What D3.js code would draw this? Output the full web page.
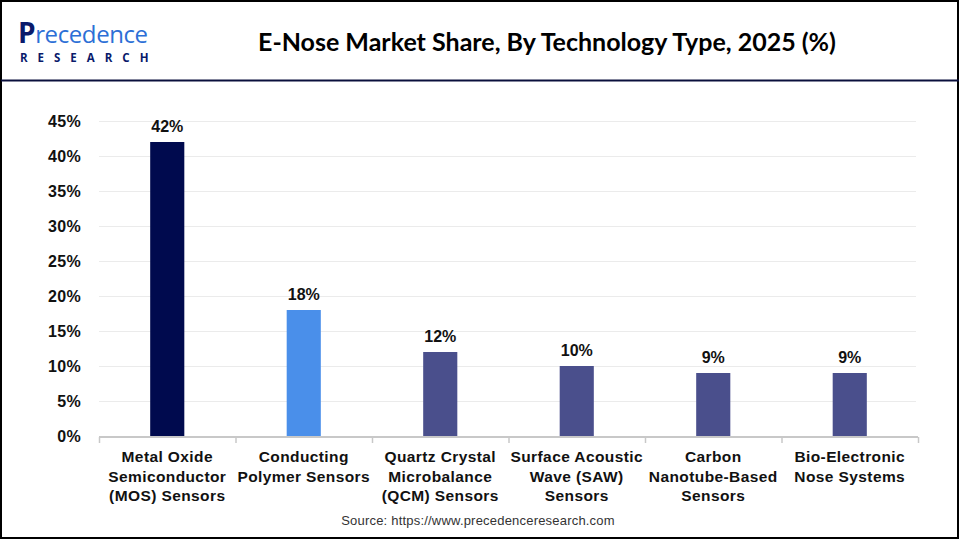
<!DOCTYPE html>
<html>
<head>
<meta charset="utf-8">
<script src="https://cdn.jsdelivr.net/npm/d3@7"></script>
<style>
  body { margin: 0; background: #fff; }
  svg { display: block; }
</style>
</head>
<body>
<svg width="960" height="540"></svg>
<script>
// Data
const categories = [
    ["Metal Oxide", "Semiconductor", "(MOS) Sensors"],
    ["Conducting", "Polymer Sensors"],
    ["Quartz Crystal", "Microbalance", "(QCM) Sensors"],
    ["Surface Acoustic", "Wave (SAW)", "Sensors"],
    ["Carbon", "Nanotube-Based", "Sensors"],
    ["Bio-Electronic", "Nose Systems"]
];
const values = [42, 18, 12, 10, 9, 9];
const barColors = ["#000a4e", "#4a8fea", "#4a4f8c", "#4a4f8c", "#4a4f8c", "#4a4f8c"];
const yTicks = [0, 5, 10, 15, 20, 25, 30, 35, 40, 45];

const svg = d3.select("svg");

// Frame and header rule
svg.append("rect")
    .attr("x", 1).attr("y", 1)
    .attr("width", 957).attr("height", 537)
    .attr("fill", "none")
    .attr("stroke", "#000")
    .attr("stroke-width", 2);

svg.append("line")
    .attr("x1", 1).attr("x2", 959)
    .attr("y1", 80.5).attr("y2", 80.5)
    .attr("stroke", "#0a0f3c")
    .attr("stroke-width", 2);

// Logo
const logo = svg.append("g");
logo.append("text")
    .attr("x", 18).attr("y", 43)
    .style("font-family", "'Open Sans', sans-serif")
    .style("font-size", "24px")
    .style("font-weight", "500")
    .style("letter-spacing", "-0.4px")
    .html('<tspan fill="#0a1a6b" font-size="28px" font-weight="700">P</tspan><tspan fill="#2c6fd6">recedence</tspan>');
logo.append("text")
    .attr("x", 20).attr("y", 58)
    .attr("dy", "0.35em")
    .attr("fill", "#0a1a6b")
    .style("font-family", "'Open Sans', sans-serif")
    .style("font-size", "11.5px")
    .style("font-weight", "700")
    .style("letter-spacing", "10px")
    .text("RESEARCH");

// Title
svg.append("text")
    .attr("x", 547).attr("y", 42)
    .attr("text-anchor", "middle")
    .attr("dy", "0.35em")
    .attr("fill", "#000")
    .style("font-family", "Lato, 'Open Sans', sans-serif")
    .style("font-size", "25px")
    .style("font-weight", "700")
    .text("E-Nose Market Share, By Technology Type, 2025 (%)");

// Scales
const x = d3.scaleBand()
    .domain(d3.range(categories.length))
    .range([99, 918])
    .paddingInner(0.75)
    .paddingOuter(0.375);

const y = d3.scaleLinear()
    .domain([0, 45])
    .range([436, 121]);

// Gridlines
svg.append("g")
    .selectAll("line")
    .data(yTicks.filter(d => d > 0))
    .join("line")
    .attr("x1", 99).attr("x2", 916)
    .attr("y1", d => y(d) + 0.5).attr("y2", d => y(d) + 0.5)
    .attr("stroke", "#ebebeb")
    .attr("stroke-width", 1);

// Y axis labels
svg.append("g")
    .selectAll("text")
    .data(yTicks)
    .join("text")
    .attr("x", 81)
    .attr("y", d => y(d))
    .attr("dy", "0.35em")
    .attr("text-anchor", "end")
    .attr("fill", "#111")
    .style("font-family", "'Liberation Sans', Arial, sans-serif")
    .style("font-size", "16px")
    .style("font-weight", "700")
    .style("letter-spacing", "0.3px")
    .text(d => d + "%");

// Bars
svg.append("g")
    .selectAll("rect")
    .data(values)
    .join("rect")
    .attr("x", (d, i) => x(i))
    .attr("y", d => y(d))
    .attr("width", x.bandwidth())
    .attr("height", d => y(0) - y(d))
    .attr("fill", (d, i) => barColors[i]);

// Value labels
svg.append("g")
    .selectAll("text")
    .data(values)
    .join("text")
    .attr("x", (d, i) => x(i) + x.bandwidth() / 2)
    .attr("y", d => y(d) - 16)
    .attr("dy", "0.35em")
    .attr("text-anchor", "middle")
    .attr("fill", "#111")
    .style("font-family", "'Liberation Sans', Arial, sans-serif")
    .style("font-size", "16px")
    .style("font-weight", "700")
    .text(d => d + "%");

// X axis line and ticks
const step = x.step();
const axis = svg.append("g");
axis.append("line")
    .attr("x1", 99).attr("x2", 918)
    .attr("y1", 437).attr("y2", 437)
    .attr("stroke", "#c8c8c8")
    .attr("stroke-width", 2);
axis.selectAll(".tick")
    .data(d3.range(categories.length + 1))
    .join("line")
    .attr("class", "tick")
    .attr("x1", i => 99.5 + i * step).attr("x2", i => 99.5 + i * step)
    .attr("y1", 437).attr("y2", 443)
    .attr("stroke", "#c8c8c8")
    .attr("stroke-width", 1.5);

// Category labels
const catLabels = svg.append("g")
    .selectAll("text")
    .data(categories)
    .join("text")
    .attr("x", (d, i) => x(i) + x.bandwidth() / 2)
    .attr("y", 457)
    .attr("text-anchor", "middle")
    .attr("fill", "#111")
    .style("font-family", "'Liberation Sans', Arial, sans-serif")
    .style("font-size", "15.5px")
    .style("font-weight", "700")
    .style("letter-spacing", "0.4px");

catLabels.selectAll("tspan")
    .data(d => d)
    .join("tspan")
    .attr("x", function() { return this.parentNode.getAttribute("x"); })
    .attr("y", (d, j) => 457 + j * 19.5)
    .attr("dy", "0.35em")
    .text(d => d);

// Source
svg.append("text")
    .attr("x", 478).attr("y", 520)
    .attr("dy", "0.35em")
    .attr("text-anchor", "middle")
    .attr("fill", "#333")
    .style("font-family", "'Liberation Sans', Arial, sans-serif")
    .style("font-size", "13px")
    .style("letter-spacing", "0.2px")
    .text("Source: https://www.precedenceresearch.com");
</script>
</body>
</html>
